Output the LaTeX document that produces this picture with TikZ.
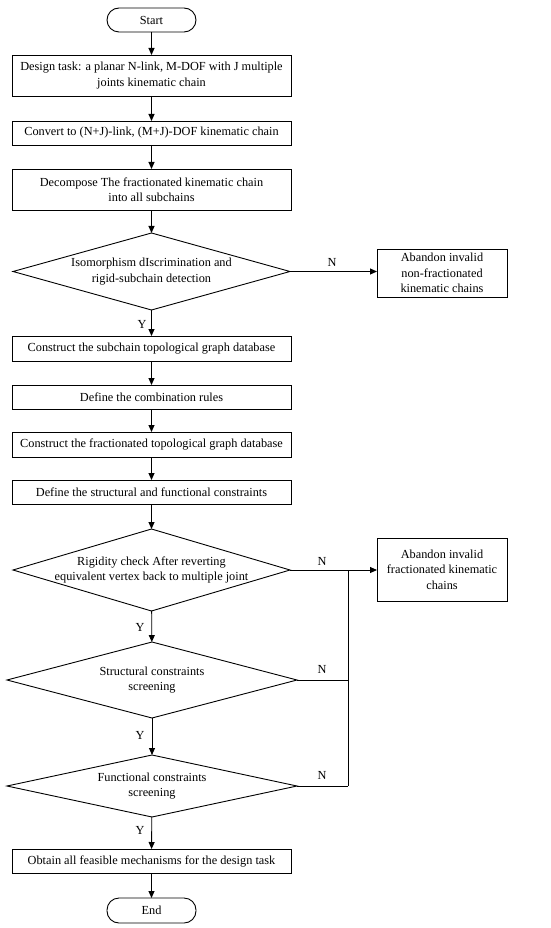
\documentclass[tikz,border=0pt]{standalone}
\usepackage{fontspec}
\setmainfont{Liberation Serif}
\usetikzlibrary{shapes.geometric,arrows.meta}
\begin{document}
\begin{tikzpicture}[x=1pt,y=-1pt,
  every node/.style={font=\fontsize{12.3}{15.5}\selectfont},
  box/.style={draw,line width=0.9pt,minimum width=279pt,inner sep=0pt,outer sep=0pt,align=center},
  term/.style={draw,line width=0.9pt,rounded corners=12pt,minimum width=89pt,inner sep=0pt,outer sep=0pt},
  dia/.style={draw,diamond,line width=0.9pt,inner sep=0pt,outer sep=0pt},
  txt/.style={align=center,inner sep=0pt},
  arr/.style={line width=0.9pt,-{Triangle[length=7pt,width=6pt]}},
  ln/.style={line width=0.9pt},
  lab/.style={inner sep=0pt}]
\useasboundingbox (0,0) rectangle (550,928);
\node[term,minimum height=24pt] (start) at (151.5,20) {Start};
\node[box,minimum height=41pt] (b1) at (151.5,75.5) {Design task: a planar N-link, M-DOF with J multiple\\joints kinematic chain};
\node[box,minimum height=24pt] (b2) at (151.5,133) {Convert to (N+J)-link, (M+J)-DOF kinematic chain};
\node[box,minimum height=41pt] (b3) at (151.5,189.5) {Decompose The fractionated kinematic chain\\into all subchains};
\node[dia,minimum width=277pt,minimum height=77pt] (d1) at (151.5,271.5) {};
\node[txt] at (d1) {Isomorphism dIscrimination and\\rigid-subchain detection};
\node[box,minimum width=130pt,minimum height=48pt] (a1) at (442,273) {Abandon invalid\\non-fractionated\\kinematic chains};
\node[box,minimum height=25pt] (b4) at (151.5,348.5) {Construct the subchain topological graph database};
\node[box,minimum height=24pt] (b5) at (151.5,397) {Define the combination rules};
\node[box,minimum height=25pt] (b6) at (151.5,444.5) {Construct the fractionated topological graph database};
\node[box,minimum height=24pt] (b7) at (151.5,492) {Define the structural and functional constraints};
\node[dia,minimum width=277pt,minimum height=82pt] (d2) at (151.5,570) {};
\node[txt] at (d2) {Rigidity check After reverting\\equivalent vertex back to multiple joint};
\node[box,minimum width=130pt,minimum height=63pt] (a2) at (442,569.5) {Abandon invalid\\fractionated kinematic\\chains};
\node[dia,minimum width=290pt,minimum height=76pt] (d3) at (152,680) {};
\node[txt] at (d3) {Structural constraints\\screening};
\node[dia,minimum width=290pt,minimum height=62pt] (d4) at (152,786) {};
\node[txt] at (d4) {Functional constraints\\screening};
\node[box,minimum height=24pt] (b8) at (151.5,861) {Obtain all feasible mechanisms for the design task};
\node[term,minimum height=25pt] (end) at (151.5,910.5) {End};
\coordinate (j2) at (348,570);
\coordinate (j3) at (348,680);
\coordinate (j4) at (348,786);
\draw[arr] (start) -- (b1);
\draw[arr] (b1) -- (b2);
\draw[arr] (b2) -- (b3);
\draw[arr] (b3) -- (d1);
\draw[arr] (d1.east) -- (d1.east -| a1.west);
\draw[arr] (d1) -- (b4);
\draw[arr] (b4) -- (b5);
\draw[arr] (b5) -- (b6);
\draw[arr] (b6) -- (b7);
\draw[arr] (b7) -- (d2);
\draw[arr] (d2.east) -- (d2.east -| a2.west);
\draw[arr] (d2) -- (d3);
\draw[arr] (d3) -- (d4);
\draw[arr] (d4) -- (b8);
\draw[arr] (b8) -- (end);
\draw[ln] (j2) -- (j4);
\draw[ln] (d3.east) -- (j3);
\draw[ln] (d4.east) -- (j4);
\node[lab] at (332,262) {N};
\node[lab] at (322,561) {N};
\node[lab] at (322,669) {N};
\node[lab] at (322,775) {N};
\node[lab] at (142,324) {Y};
\node[lab] at (140,627) {Y};
\node[lab] at (140,735) {Y};
\node[lab] at (140,830) {Y};
\end{tikzpicture}
\end{document}
